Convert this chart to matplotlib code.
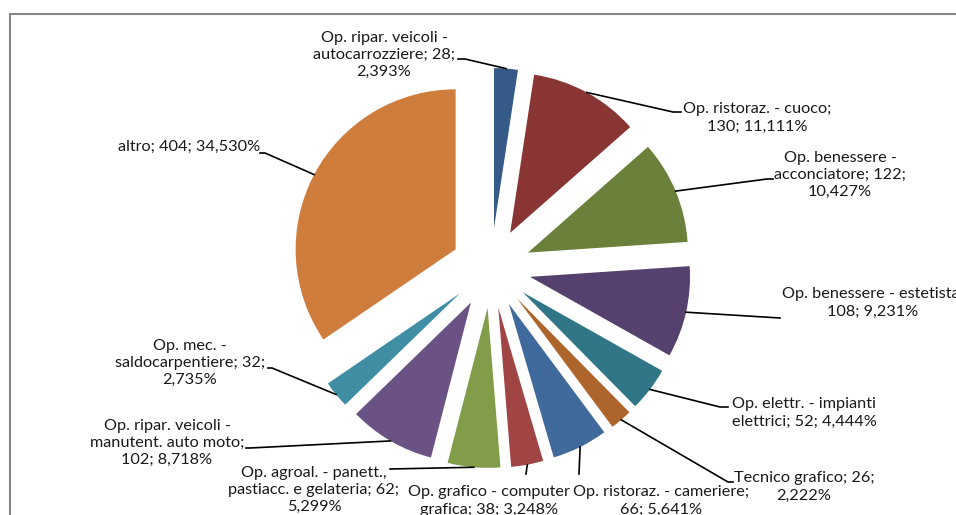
"""Exploded pie of trainee counts by qualification, Excel-style labels."""

import matplotlib.pyplot as plt
import numpy as np
from matplotlib.lines import Line2D

W, H = 956, 515

categories = [
    "Op. ripar. veicoli -\nautocarrozziere",
    "Op. ristoraz. - cuoco",
    "Op. benessere -\nacconciatore",
    "Op. benessere - estetista",
    "Op. elettr. - impianti\nelettrici",
    "Tecnico grafico",
    "Op. ristoraz. - cameriere",
    "Op. grafico - computer\ngrafica",
    "Op. agroal. - panett.,\npastiacc. e gelateria",
    "Op. ripar. veicoli -\nmanutent. auto moto",
    "Op. mec. -\nsaldocarpentiere",
    "altro",
]
values = [28, 130, 122, 108, 52, 26, 66, 38, 62, 102, 32, 404]
colors = [
    "#355A87", "#883533", "#6B803A", "#56416E", "#307687", "#AE652B",
    "#416A9C", "#A04543", "#819D4A", "#6A5285", "#3F8EA4", "#CF7D3C",
]
# which "; " separator turns into a line break (0 = none, 1 = after name, 2 = after value)
break_after = [2, 1, 2, 1, 0, 2, 1, 0, 2, 1, 2, 0]

# label layout in pixels from top-left: text centre, leader elbow, stub end
label_pos = [
    (384, 55), (757, 118), (840, 175), (873, 303), (804, 413), (804, 487),
    (661, 501), (489, 501), (314, 490), (167, 443), (190, 363), (189, 147),
]
elbows = [
    (465, 59), (673, 112), (767, 179), (780, 318), (720, 407), (728, 482),
    (579, 474), (526, 474), (390, 469), (250, 448), (272, 368), (265, 153),
]
stubs = [
    (458, 59), (681, 112), (773, 179), None, (728, 407), (733, 482),
    None, None, None, (246, 448), (268, 368), (260, 153),
]


def fy(y):
    return H - y


def make_label(name, value, pct, brk):
    pct_txt = f"{pct:.3f}%".replace(".", ",")
    seps = ["; ", "; "]
    if brk:
        seps[brk - 1] = ";\n"
    return f"{name}{seps[0]}{value}{seps[1]}{pct_txt}"


fig = plt.figure(figsize=(W / 100, H / 100), dpi=100)
ax = fig.add_axes([0, 0, 1, 1])

# chart area border (continues past the crop)
ax.plot([10, 10, W + 5], [-5, fy(14), fy(14)], color="#868686", lw=1.5,
        solid_joinstyle="miter")

radius = 160
explode_px = 40
wedges, _ = ax.pie(
    values,
    colors=colors,
    startangle=90,
    counterclock=False,
    explode=[explode_px] * len(values),
    radius=radius,
    center=(491, fy(268)),
    wedgeprops={"linewidth": 0},
    frame=True,
)
ax.set_xlim(0, W)
ax.set_ylim(0, H)
ax.set_aspect("equal")
ax.axis("off")

total = sum(values)
for i, w in enumerate(wedges):
    ang = np.deg2rad((w.theta1 + w.theta2) / 2)
    cx, cy = w.center
    ax_pt = (cx + w.r * np.cos(ang), cy + w.r * np.sin(ang))
    ex, ey = elbows[i]
    xs = [ax_pt[0], ex]
    ys = [ax_pt[1], fy(ey)]
    if stubs[i] is not None:
        xs.append(stubs[i][0])
        ys.append(fy(stubs[i][1]))
    ax.add_line(Line2D(xs, ys, color="black", lw=1.2))

    txt = make_label(categories[i], values[i], 100 * values[i] / total, break_after[i])
    lx, ly = label_pos[i]
    ax.text(lx, fy(ly), txt, ha="center", va="center", fontsize=11.7,
            family=["Lato", "DejaVu Sans"], color="#1a1a1a", linespacing=1.28)

fig.savefig("out.png", dpi=100)
